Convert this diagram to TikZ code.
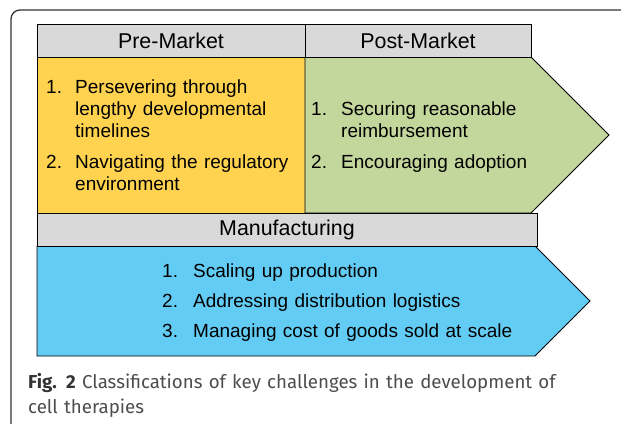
\documentclass[tikz,border=0pt]{standalone}
\usepackage{fontspec}
\setmainfont{Liberation Sans}
\newfontfamily\capfont{Fira Sans}
\usepackage{xcolor}
\definecolor{mgray}{HTML}{D9D9D9}
\definecolor{myellow}{HTML}{FFD34F}
\definecolor{mgreen}{HTML}{C3D69B}
\definecolor{mblue}{HTML}{63CCF5}
\definecolor{mframe}{HTML}{333333}
\definecolor{mcap}{HTML}{4D4D4D}
\usepackage{tikz}

\begin{document}
\begin{tikzpicture}[x=1pt, y=-1pt,
        head/.style={draw, fill=mgray, line width=0.9pt, inner sep=0pt, minimum height=33pt,
            font=\fontsize{21.4}{25}\selectfont},
        num/.style={anchor=base west, inner sep=0pt, font=\fontsize{19}{22}\selectfont},
        item/.style={anchor=base west, inner sep=0pt, align=left, text width=#1,
            font=\fontsize{19}{22}\selectfont}]
        \useasboundingbox (0, 0) rectangle (621, 423);
        % figure frame
        \draw[mframe, line width=1.3pt, rounded corners=9pt] (11, 440) -- (11, 10) -- (640, 10);

        % bodies
        \draw[line width=0.9pt, fill=myellow] (37, 57) rectangle (305, 213);
        \draw[line width=0.9pt, fill=mgreen] (305, 57) -- (531, 57) -- (609, 135) -- (531, 213) -- (305, 213) -- cycle;
        \draw[line width=0.9pt, fill=mblue] (37, 246) -- (535, 246) -- (590, 301) -- (535, 356) -- (37, 356) -- cycle;

        % headers
        \node[head, minimum width=268pt] (pre) at (171, 41) {Pre-Market};
        \node[head, minimum width=226pt] (post) at (418, 41) {Post-Market};
        \node[head, minimum width=500pt] (manu) at (287, 229.5) {Manufacturing};

        % pre-market challenges
        \node[num] (pre1) at (46, 93) {1.};
        \node[item=230pt] (pretext1) at (75, 93) {Persevering through\\lengthy developmental\\timelines};
        \node[num] (pre2) at (46, 168) {2.};
        \node[item=230pt] (pretext2) at (75, 168) {Navigating the regulatory\\environment};

        % post-market challenges
        \node[num] (post1) at (311, 115) {1.};
        \node[item=220pt] (posttext1) at (341, 115) {Securing reasonable\\reimbursement};
        \node[num] (post2) at (311, 168) {2.};
        \node[item=220pt] (posttext2) at (341, 168) {Encouraging adoption};

        % manufacturing challenges
        \node[num] (manu1) at (162, 277) {1.};
        \node[item=360pt] (manutext1) at (193, 277) {Scaling up production};
        \node[num] (manu2) at (162, 307) {2.};
        \node[item=360pt] (manutext2) at (193, 307) {Addressing distribution logistics};
        \node[num] (manu3) at (162, 337) {3.};
        \node[item=360pt] (manutext3) at (193, 337) {Managing cost of goods sold at scale};

        % caption
        \node[anchor=base west, inner sep=0pt, align=left, text width=585pt, text=mcap,
            font=\capfont\fontsize{18.7}{25}\selectfont] (caption) at (28, 388)
            {{\bfseries\color{mframe}Fig. 2} Classifications of key challenges in the development of\\cell therapies};
    \end{tikzpicture}
\end{document}
